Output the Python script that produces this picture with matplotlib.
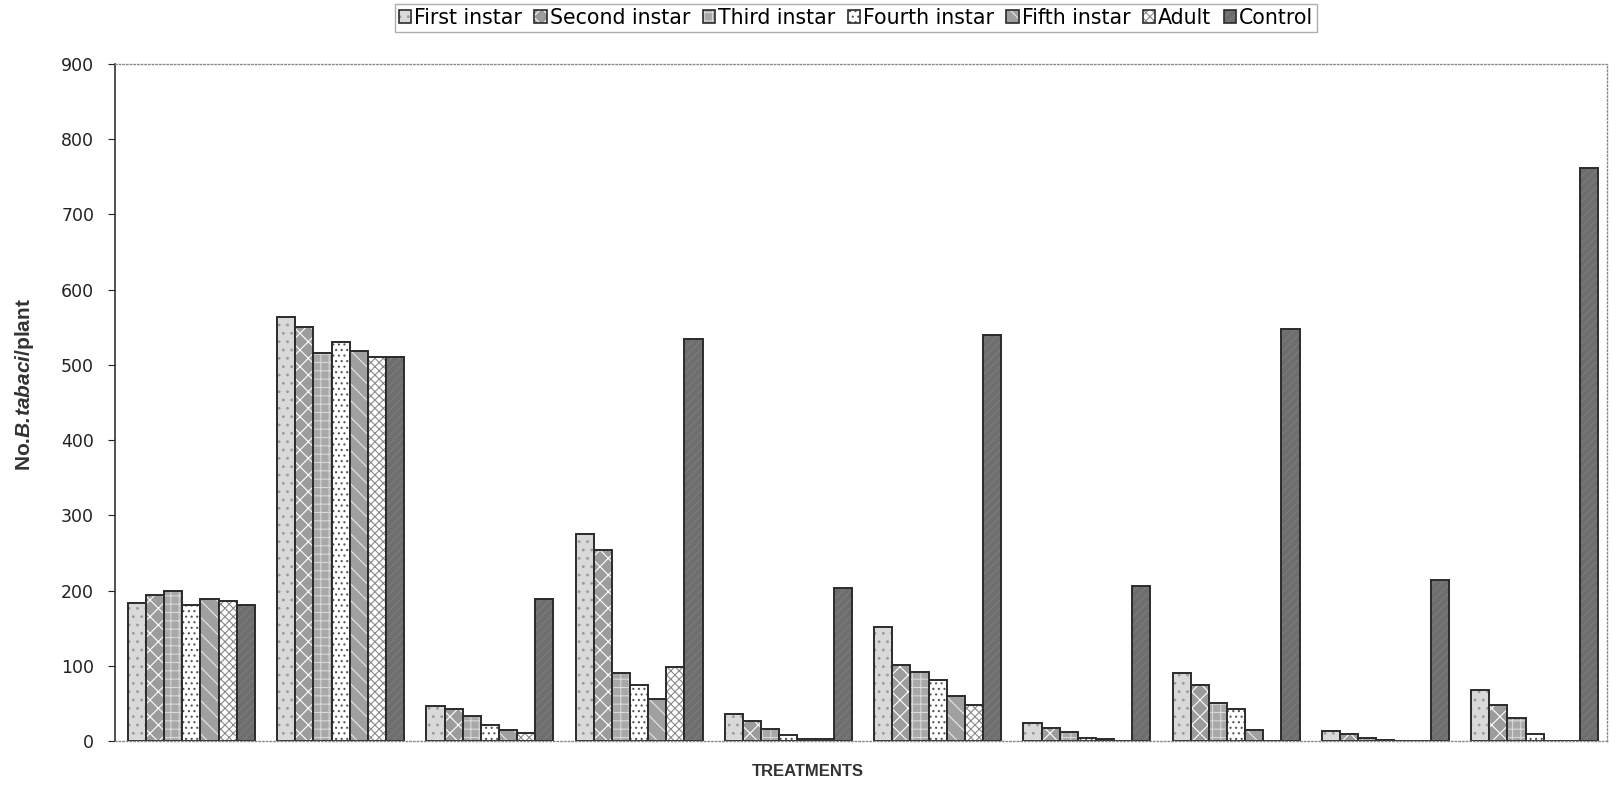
import matplotlib.pyplot as plt
import numpy as np
from matplotlib.patches import Patch

plt.rcParams['font.family'] = ['Liberation Sans', 'DejaVu Sans']
plt.rcParams['mathtext.fontset'] = 'custom'
plt.rcParams['mathtext.bf'] = 'Liberation Sans:bold'
plt.rcParams['mathtext.bfit'] = 'Liberation Sans:bold:italic'
plt.rcParams['hatch.linewidth'] = 0.8

# 10 traitements, 7 séries (stades + témoin)
treatments = ['T1', 'T2', 'T3', 'T4', 'T5', 'T6', 'T7', 'T8', 'T9', 'T10']
series_names = ['First instar', 'Second instar', 'Third instar', 'Fourth instar',
                'Fifth instar', 'Adult', 'Control']
first_instar = [183, 563, 46, 275, 36, 151, 24, 90, 13, 68]
second_instar = [194, 551, 43, 254, 26, 101, 17, 75, 9, 48]
third_instar = [200, 516, 33, 91, 16, 92, 12, 50, 4, 30]
fourth_instar = [181, 530, 21, 74, 8, 81, 4, 43, 1, 9]
fifth_instar = [189, 518, 15, 56, 3, 60, 2, 15, 0, 0]
adult = [186, 510, 10, 99, 2, 48, 0, 0, 0, 0]
control = [181, 510, 189, 535, 204, 540, 206, 548, 214, 762]
values = [first_instar, second_instar, third_instar, fourth_instar,
          fifth_instar, adult, control]

# (fond, motif, couleur du motif)
styles = [
    ('#d9d9d9', '..', '#9a9a9a'),
    ('#9c9c9c', 'xx', '#ffffff'),
    ('#a8a8a8', '++', '#d8d8d8'),
    ('#ffffff', '...', '#555555'),
    ('#a0a0a0', '\\\\', '#e6e6e6'),
    ('#ffffff', 'xxxx', '#8a8a8a'),
    ('#6e6e6e', '////', '#7c7c7c'),
]
outline = '#2b2b2b'

fig = plt.figure(figsize=(16.16, 7.9), dpi=100)
ax = fig.add_axes([115 / 1616, 49 / 790, (1607 - 115) / 1616, (741 - 64) / 790])

x = np.arange(len(treatments))
group_w = 0.85
w = group_w / len(series_names)
handles = []
for i, (name, vals) in enumerate(zip(series_names, values)):
    face, hatch, hcol = styles[i]
    pos = x - group_w / 2 + w * (i + 0.5)
    ax.bar(pos, vals, w, color=face, edgecolor=hcol, hatch=hatch, linewidth=0)
    ax.bar(pos, vals, w, fill=False, edgecolor=outline, linewidth=1.4)
    h1 = Patch(facecolor=face, edgecolor=hcol, hatch=hatch, linewidth=0)
    h2 = Patch(fill=False, edgecolor=outline, linewidth=1.2)
    handles.append((h1, h2))

ax.set_xlim(-0.512, 9.485)
ax.set_ylim(0, 900)
ax.set_yticks(range(0, 1000, 100))
ax.set_xticks([])
ax.tick_params(axis='y', labelsize=12.5, length=5, width=0.8, pad=10, colors='#222222')
for lab in ax.get_yticklabels():
    lab.set_fontfamily('DejaVu Sans')

ax.spines['left'].set_color('#333333')
ax.spines['left'].set_linewidth(1.2)
for s in ['top', 'right', 'bottom']:
    ax.spines[s].set_color('#888888')
    ax.spines[s].set_linestyle(':')
    ax.spines[s].set_linewidth(1.0)

ax.set_ylabel('No.$\\mathbfit{B.\\!tabaci}$/plant', fontsize=15, fontweight='bold',
              color='#333333')
ax.yaxis.set_label_coords(-0.053, 0.527)
fig.text(808 / 1616, 1 - 771 / 790, 'TREATMENTS', ha='center', va='center',
         fontsize=12, fontweight='bold', color='#333333')

fig.legend(handles, series_names, loc='upper center', bbox_to_anchor=(856 / 1616, 1 - 4 / 790),
           ncol=7, frameon=True, fancybox=False, edgecolor='#999999',
           prop={'family': 'DejaVu Sans', 'size': 14.8},
           handlelength=0.6, handleheight=0.6, handletextpad=0.15, columnspacing=0.6,
           borderpad=0.2, borderaxespad=0)

fig.savefig('out.png', dpi=100)
